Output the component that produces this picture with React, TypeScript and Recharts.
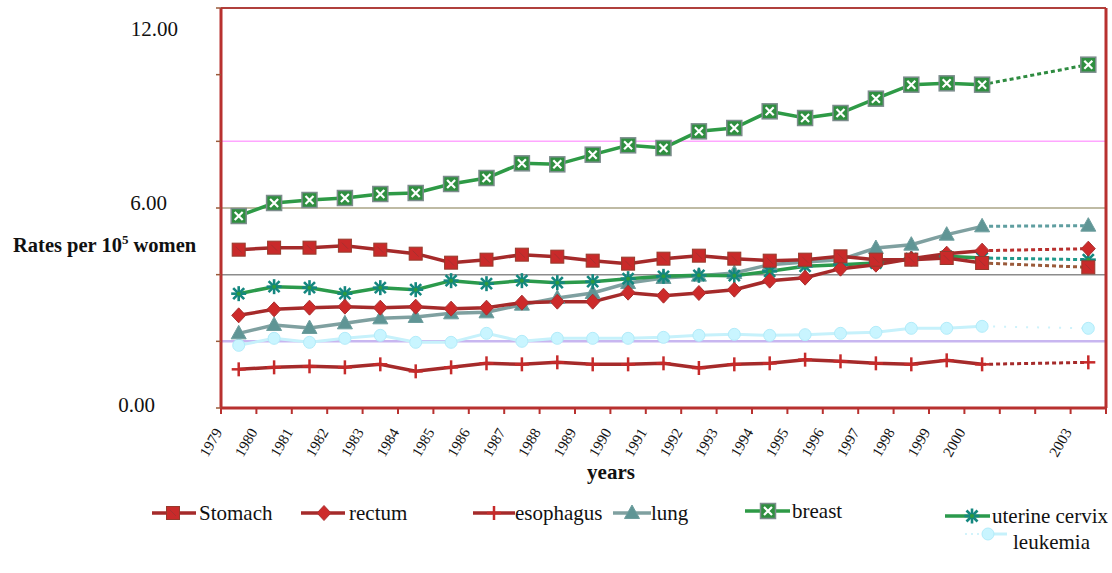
import React from 'react';
import { LineChart, Line, XAxis, YAxis, ReferenceLine } from 'recharts';

// ---------- data ----------
const years = ['1979','1980','1981','1982','1983','1984','1985','1986','1987','1988','1989','1990','1991','1992','1993','1994','1995','1996','1997','1998','1999','2000','2001','2002','2003'];
const tickLabels = ['1979','1980','1981','1982','1983','1984','1985','1986','1987','1988','1989','1990','1991','1992','1993','1994','1995','1996','1997','1998','1999','2000','','','2003'];

const stomach = [4.75, 4.81, 4.81, 4.87, 4.75, 4.63, 4.36, 4.45, 4.6, 4.54, 4.42, 4.33, 4.48, 4.57, 4.48, 4.42, 4.45, 4.55, 4.45, 4.45, 4.5, 4.35];
const stomach2003 = 4.22;
const rectum = [2.78, 2.96, 3.01, 3.04, 3.01, 3.04, 2.98, 3.01, 3.16, 3.19, 3.19, 3.46, 3.37, 3.45, 3.55, 3.82, 3.91, 4.18, 4.3, 4.48, 4.63, 4.72];
const rectum2003 = 4.78;
const esophagus = [1.16, 1.22, 1.25, 1.22, 1.31, 1.1, 1.22, 1.34, 1.31, 1.37, 1.31, 1.31, 1.34, 1.2, 1.31, 1.34, 1.45, 1.4, 1.34, 1.31, 1.43, 1.31];
const esophagus2003 = 1.37;
const lung = [2.24, 2.49, 2.4, 2.54, 2.69, 2.73, 2.84, 2.87, 3.1, 3.3, 3.45, 3.75, 3.9, 3.97, 4.05, 4.3, 4.38, 4.45, 4.8, 4.9, 5.2, 5.45];
const lung2003 = 5.47;
const breast = [5.76, 6.15, 6.24, 6.3, 6.42, 6.45, 6.72, 6.9, 7.34, 7.31, 7.6, 7.88, 7.8, 8.3, 8.4, 8.9, 8.7, 8.85, 9.28, 9.7, 9.74, 9.7];
const breast2003 = 10.3;
const cervix = [3.43, 3.64, 3.61, 3.43, 3.61, 3.55, 3.82, 3.73, 3.82, 3.76, 3.79, 3.88, 3.95, 3.98, 3.97, 4.1, 4.25, 4.3, 4.35, 4.48, 4.55, 4.5];
const cervix2003 = 4.45;
const leukemia = [1.88, 2.09, 1.97, 2.09, 2.18, 1.97, 1.97, 2.24, 2.0, 2.09, 2.09, 2.09, 2.12, 2.18, 2.21, 2.18, 2.2, 2.24, 2.27, 2.39, 2.39, 2.45];
const leukemia2003 = 2.39;

const yTicks = [0, 2, 4, 6, 8, 10, 12];

const LAST_SOLID = 21;
const LAST = years.length - 1;
const xTicks = years.map((_, i) => i);

const series: { key: string; vals: number[]; end: number }[] = [
  { key: 'stomach', vals: stomach, end: stomach2003 },
  { key: 'rectum', vals: rectum, end: rectum2003 },
  { key: 'esophagus', vals: esophagus, end: esophagus2003 },
  { key: 'lung', vals: lung, end: lung2003 },
  { key: 'breast', vals: breast, end: breast2003 },
  { key: 'cervix', vals: cervix, end: cervix2003 },
  { key: 'leukemia', vals: leukemia, end: leukemia2003 },
];

const data = years.map((year, i) => {
  const row: Record<string, any> = { year, idx: i };
  series.forEach((s) => {
    row[s.key] = i <= LAST_SOLID ? s.vals[i] : null;
    row[s.key + 'P'] = i === LAST_SOLID ? s.vals[i] : i === LAST ? s.end : null;
  });
  return row;
});

// ---------- styles ----------
const FONT = 'Liberation Serif, DejaVu Serif, serif';
const serif: React.CSSProperties = { fontFamily: FONT };
const AXIS_RED = '#b8312f';
const AXIS_X = 221;
const PLOT_W = 885;
const BAND = PLOT_W / years.length;

// ---------- markers ----------
type M = { cx: number; cy: number };
const SquareMark = ({ cx, cy }: M) => (
  <g>
    <rect x={cx - 6.5} y={cy - 6.5} width={13} height={13} fill="#c92a2a" stroke="#963a2c" strokeWidth={1} />
    <path d={`M${cx - 3},${cy - 3}L${cx + 3},${cy + 3}`} stroke="#a83030" strokeWidth={1} />
  </g>
);
const DiamondMark = ({ cx, cy }: M) => (
  <polygon points={`${cx},${cy - 7.5} ${cx + 7},${cy} ${cx},${cy + 7.5} ${cx - 7},${cy}`} fill="#cd2a2a" stroke="#a83030" strokeWidth={1} />
);
const PlusMark = ({ cx, cy }: M) => (
  <g stroke="#c62a2a" strokeWidth={2.5}>
    <line x1={cx - 7} y1={cy} x2={cx + 7} y2={cy} />
    <line x1={cx} y1={cy - 7} x2={cx} y2={cy + 7} />
  </g>
);
const TriMark = ({ cx, cy }: M) => (
  <polygon points={`${cx},${cy - 8} ${cx + 7.5},${cy + 5.5} ${cx - 7.5},${cy + 5.5}`} fill="#5f9595" stroke="#6e9e9e" strokeWidth={1} />
);
const BreastMark = ({ cx, cy }: M) => (
  <g>
    <rect x={cx - 7.5} y={cy - 7.5} width={15} height={15} fill="#2f8f40" stroke="#7c8c8c" strokeWidth={1.5} />
    <path d={`M${cx - 4},${cy - 4}L${cx + 4},${cy + 4}M${cx + 4},${cy - 4}L${cx - 4},${cy + 4}`} stroke="#ffffff" strokeWidth={2.2} />
  </g>
);
const StarMark = ({ cx, cy }: M) => (
  <g stroke="#14877f" strokeWidth={2.6}>
    <line x1={cx - 7.5} y1={cy} x2={cx + 7.5} y2={cy} />
    <line x1={cx} y1={cy - 7.5} x2={cx} y2={cy + 7.5} />
    <line x1={cx - 5.5} y1={cy - 5.5} x2={cx + 5.5} y2={cy + 5.5} />
    <line x1={cx + 5.5} y1={cy - 5.5} x2={cx - 5.5} y2={cy + 5.5} />
    <circle cx={cx} cy={cy} r={2} fill="#2e9a3e" stroke="none" />
  </g>
);
const CircleMark = ({ cx, cy }: M) => (
  <circle cx={cx} cy={cy} r={6} fill="#c9f5ff" stroke="#b2ecfa" strokeWidth={1} />
);

const makeDot = (Shape: (p: M) => React.ReactElement, onlyIndex?: number) => (props: any) => {
  const { cx, cy, index, key } = props;
  if (cx == null || cy == null || props.value == null || (onlyIndex !== undefined && index !== onlyIndex)) {
    return <g key={key ?? `e-${index}`} />;
  }
  return <g key={key ?? `d-${index}`}><Shape cx={cx} cy={cy} /></g>;
};

const styleMap: Record<string, { color: string; Shape: (p: M) => React.ReactElement; width: number; dash: string; dashColor?: string }> = {
  leukemia: { color: '#c6f1fb', Shape: CircleMark, width: 3, dash: '2 9', dashColor: '#cdf2fb' },
  esophagus: { color: '#a52a2a', Shape: PlusMark, width: 3.5, dash: '4 3' },
  lung: { color: '#7fa0a0', Shape: TriMark, width: 3.5, dash: '4 3', dashColor: '#5f9ea0' },
  cervix: { color: '#2b9a4c', Shape: StarMark, width: 3.5, dash: '4 3', dashColor: '#20988a' },
  rectum: { color: '#a52a2a', Shape: DiamondMark, width: 3.5, dash: '4 3', dashColor: '#b8302e' },
  stomach: { color: '#a52a2a', Shape: SquareMark, width: 3.5, dash: '4 3', dashColor: '#9a5a3a' },
  breast: { color: '#2e9a46', Shape: BreastMark, width: 3.5, dash: '4 3', dashColor: '#2e8b40' },
};
const drawOrder = ['leukemia', 'esophagus', 'lung', 'cervix', 'rectum', 'stomach', 'breast'];

// ---------- ticks ----------
const XTick = (props: any) => {
  const { x, y, payload } = props;
  const i = payload.value as number;
  const label = tickLabels[i];
  const half = BAND / 2;
  const tx = x - 16;
  const ty = y + 24;
  return (
    <g>
      <line x1={x - half} y1={y} x2={x - half} y2={y + 6} stroke={AXIS_RED} strokeWidth={2} />
      {i === LAST && <line x1={x + half} y1={y} x2={x + half} y2={y + 6} stroke={AXIS_RED} strokeWidth={2} />}
      {label ? (
        <text x={tx} y={ty} transform={`rotate(-60 ${tx} ${ty})`} textAnchor="end" fontSize={15} style={serif} fill="#151515">
          {label}
        </text>
      ) : null}
    </g>
  );
};

const yLabelPos: Record<number, { dx: number; dy: number }> = {
  12: { dx: -43, dy: 28 },
  6: { dx: -54, dy: 2 },
  0: { dx: -66, dy: 4 },
};
const YTick = (props: any) => {
  const { y, payload } = props;
  const p = yLabelPos[payload.value];
  if (!p) return <g />;
  return (
    <text x={AXIS_X + p.dx} y={y + p.dy} textAnchor="end" fontSize={21} style={serif} fill="#111">
      {payload.value.toFixed(2)}
    </text>
  );
};

// ---------- legend ----------
const legendItems = [
  { key: 'stomach', label: 'Stomach', x1: 152, x2: 196, mx: 173, y: 513, tx: 199 },
  { key: 'rectum', label: 'rectum', x1: 301, x2: 345, mx: 324, y: 513, tx: 349 },
  { key: 'esophagus', label: 'esophagus', x1: 473, x2: 515, mx: 494, y: 513, tx: 515 },
  { key: 'lung', label: 'lung', x1: 613, x2: 651, mx: 632, y: 513, tx: 651 },
  { key: 'breast', label: 'breast', x1: 745, x2: 790, mx: 768, y: 511, tx: 792 },
  { key: 'cervix', label: 'uterine cervix', x1: 945, x2: 990, mx: 972, y: 516, tx: 992 },
  { key: 'leukemia', label: 'leukemia', x1: 965, x2: 1007, mx: 988, y: 534, tx: 1013, ty: 549 },
];

const Overlay = () => (
  <svg width={1112} height={573} style={{ position: 'absolute', left: 0, top: 0, pointerEvents: 'none' }}>
    <text x={13} y={252} fontSize={20.5} fontWeight="bold" style={serif} fill="#111">
      Rates per 10<tspan dy={-8} fontSize={13}>5</tspan>
      <tspan dy={8}> women</tspan>
    </text>
    <text x={611} y={479} textAnchor="middle" fontSize={21} fontWeight="bold" style={serif} fill="#111">years</text>
    {legendItems.map((it) => {
      const st = styleMap[it.key];
      const Shape = st.Shape;
      return (
        <g key={it.key}>
          {it.key === 'leukemia' ? (
            <>
              <line x1={it.x1} y1={it.y} x2={it.mx} y2={it.y} stroke="#d2f3fb" strokeWidth={2} strokeDasharray="2 4" />
              <line x1={it.mx} y1={it.y} x2={it.x2} y2={it.y} stroke={st.color} strokeWidth={3} />
            </>
          ) : (
            <line x1={it.x1} y1={it.y} x2={it.x2} y2={it.y} stroke={st.color} strokeWidth={3.5} />
          )}
          <Shape cx={it.mx} cy={it.y} />
          <text x={it.tx} y={(it as any).ty ?? it.y + 7} fontSize={21} style={serif} fill="#111">{it.label}</text>
        </g>
      );
    })}
  </svg>
);

export default function App() {
  return (
    <div style={{ position: 'absolute', left: 0, top: 0, width: 1112, height: 573, background: '#ffffff' }}>
      <LineChart width={1112} height={573} data={data} margin={{ top: 8, right: 5, bottom: 105, left: 161 }}>
        <XAxis
          dataKey="idx"
          xAxisId="x"
          type="number"
          domain={[-0.5, LAST + 0.5]}
          ticks={xTicks}
          interval={0}
          allowDataOverflow
          height={60}
          tickSize={0}
          tickMargin={0}
          tickLine={false}
          axisLine={{ stroke: AXIS_RED, strokeWidth: 3 }}
          tick={<XTick />}
        />
        <YAxis
          yAxisId="l"
          width={60}
          domain={[0, 12]}
          ticks={yTicks}
          interval={0}
          tickSize={5}
          tickMargin={2}
          tickLine={{ stroke: '#9a5a3a', strokeWidth: 1.5 }}
          axisLine={{ stroke: AXIS_RED, strokeWidth: 3 }}
          tick={<YTick />}
        />
        <YAxis
          yAxisId="r"
          orientation="right"
          width={1}
          domain={[0, 12]}
          tick={false}
          tickLine={false}
          axisLine={{ stroke: AXIS_RED, strokeWidth: 3 }}
        />
        <ReferenceLine xAxisId="x" yAxisId="l" y={2} stroke="#c8b6f0" strokeWidth={2.5} />
        <ReferenceLine xAxisId="x" yAxisId="l" y={4} stroke="#8c8c8c" strokeWidth={1.5} />
        <ReferenceLine xAxisId="x" yAxisId="l" y={6} stroke="#aaa486" strokeWidth={1.5} />
        <ReferenceLine xAxisId="x" yAxisId="l" y={8} stroke="#ffa6ff" strokeWidth={1.5} />
        <ReferenceLine xAxisId="x" yAxisId="l" y={12} stroke="#b0403c" strokeWidth={2} />
        {drawOrder.map((k) => {
          const st = styleMap[k];
          return (
            <Line
              key={k + 'P'}
              xAxisId="x"
              yAxisId="l"
              dataKey={k + 'P'}
              type="linear"
              stroke={st.dashColor ?? st.color}
              strokeWidth={k === 'leukemia' ? 2 : 3}
              strokeDasharray={st.dash}
              connectNulls
              dot={makeDot(st.Shape, LAST)}
              activeDot={false}
              isAnimationActive={false}
            />
          );
        })}
        {drawOrder.map((k) => {
          const st = styleMap[k];
          return (
            <Line
              key={k}
              xAxisId="x"
              yAxisId="l"
              dataKey={k}
              type="linear"
              stroke={st.color}
              strokeWidth={st.width}
              dot={makeDot(st.Shape)}
              activeDot={false}
              isAnimationActive={false}
            />
          );
        })}
      </LineChart>
      <Overlay />
    </div>
  );
}
